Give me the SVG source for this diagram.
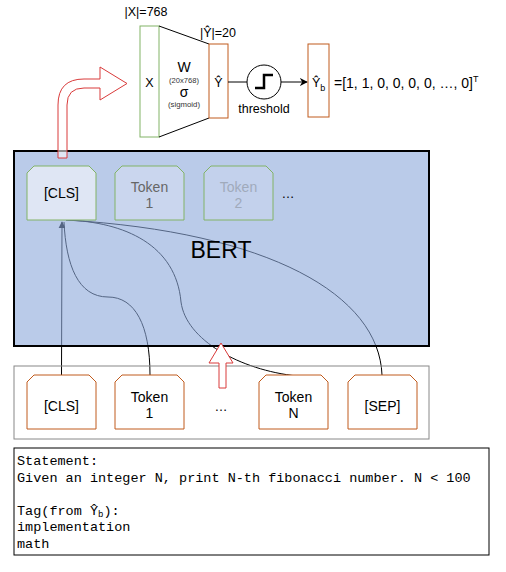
<svg xmlns="http://www.w3.org/2000/svg" width="506" height="572" viewBox="0 0 506 572">
<style>
text{font-family:"Liberation Sans",Arial,sans-serif;fill:#000}
.t12{font-size:12.5px}
.tok{font-size:14px;text-anchor:middle}
.mono{font-family:"Liberation Mono","Courier New",monospace;font-size:13.5px}
.inp{fill:#fff;stroke:#c05a1c;stroke-width:1}
.bt{stroke:#82b366;stroke-width:1}
.conn{fill:none;stroke:#000;stroke-width:1}
.red{fill:#fff;stroke:#d93a3a;stroke-width:1}
</style>
<defs>
<marker id="ah" viewBox="0 0 10 10" refX="9" refY="5" markerWidth="7" markerHeight="7" orient="auto" markerUnits="userSpaceOnUse">
<path d="M0,0 L10,5 L0,10 Z" fill="#000"/>
</marker>
<marker id="ah2" viewBox="0 0 10 10" refX="9" refY="5" markerWidth="8" markerHeight="8" orient="auto" markerUnits="userSpaceOnUse">
<path d="M0,0 L10,5 L0,10 L3,5 Z" fill="#000"/>
</marker>
</defs>
<rect width="506" height="572" fill="#fff"/>

<!-- top classifier -->
<g id="x-vector">
<rect x="140" y="26" width="19" height="111" fill="#fff" stroke="#82b366"/>
<text class="t12" x="149.5" y="87" text-anchor="middle">X</text>
<text class="t12" x="146" y="16" text-anchor="middle">|X|=768</text>
</g>
<g id="weights">
<line x1="159" y1="26" x2="209" y2="44" stroke="#000"/>
<line x1="159" y1="137" x2="209" y2="118" stroke="#000"/>
<text x="184" y="72" text-anchor="middle" style="font-size:14px">W</text>
<text x="184" y="83" text-anchor="middle" style="font-size:7.6px;fill:#333">(20x768)</text>
<text x="184" y="97" text-anchor="middle" style="font-size:14px">σ</text>
<text x="184" y="107" text-anchor="middle" style="font-size:7.8px;fill:#333">(sigmoid)</text>
</g>
<g id="y-hat">
<rect x="209" y="44" width="19" height="74" fill="#fff" stroke="#c05a1c"/>
<text class="t12" x="218.5" y="87" text-anchor="middle">Ŷ</text>
<text class="t12" x="218" y="37" text-anchor="middle">|Ŷ|=20</text>
</g>
<g id="threshold">
<circle cx="264" cy="82" r="17" fill="#fff" stroke="#000"/>
<path d="M255,88 L264,88 L264,75 L273,75" fill="none" stroke="#000" stroke-width="2.5"/>
<text class="t12" x="264" y="113" text-anchor="middle">threshold</text>
</g>
<g id="y-hat-b">
<rect x="308" y="44" width="21" height="73" fill="#fff" stroke="#c05a1c"/>
<text class="t12" x="312" y="87">Ŷ<tspan style="font-size:9px" dy="4">b</tspan></text>
<text x="334" y="88" style="font-size:14px">=[1, 1, 0, 0, 0, 0, …, 0]<tspan style="font-size:9px" dy="-6">T</tspan></text>
</g>
<g id="top-connectors">
<line x1="228" y1="82" x2="247" y2="82" stroke="#000"/>
<line x1="281" y1="82" x2="307" y2="82" stroke="#000" marker-end="url(#ah2)"/>
</g>

<!-- connectors into BERT -->
<g id="connectors">
<path class="conn" d="M61.5,375 L62,222" marker-end="url(#ah)"/>
<path class="conn" d="M150,375 C150,325 135,297 108,297 C78,297 66,265 64,222"/>
<path class="conn" d="M297,376 C240,370 186,340 181,302 C176,245 125,222 66,220"/>
<path class="conn" d="M382,375 C379,295 270,232 66,220"/>
</g>

<!-- BERT -->
<g id="bert">
<rect x="14" y="151" width="415" height="195" fill="#8ca8da" fill-opacity="0.6" stroke="#000" stroke-width="2"/>
<text x="221" y="258" text-anchor="middle" style="font-size:23px">BERT</text>
</g>
<g id="bert-cls">
<path class="bt" d="M34,166 L89,166 L96,173 L96,220 L27,220 L27,173 Z" fill="#dfe6f4"/>
<text class="tok" x="61.5" y="198">[CLS]</text>
</g>
<g id="bert-token1">
<path class="bt" d="M122,166 L177,166 L184,173 L184,220 L115,220 L115,173 Z" fill="#cad6ee"/>
<text class="tok" x="149.5" y="192" style="fill:#666">Token</text>
<text class="tok" x="149.5" y="208" style="fill:#666">1</text>
</g>
<g id="bert-token2">
<path class="bt" d="M211,166 L266,166 L273,173 L273,220 L204,220 L204,173 Z" fill="#c3d1ec"/>
<text class="tok" x="238.5" y="192" style="fill:#a0aabb">Token</text>
<text class="tok" x="238.5" y="208" style="fill:#a0aabb">2</text>
</g>
<text x="288" y="198" text-anchor="middle" style="font-size:13px">…</text>

<!-- top curved arrow -->
<g id="output-arrow">
<path class="red" fill-opacity="0.55" d="M58,158 L58,105 Q58,79 84,79 L100,79 L100,67 L127,83.5 L100,100 L100,88 L84,88 Q67,88 67,105 L67,158 Z"/>
</g>

<!-- input -->
<g id="input-group">
<rect x="14" y="366" width="415" height="73" fill="none" stroke="#888" stroke-width="1"/>
</g>
<g id="in-cls">
<path class="inp" d="M34,375 L89,375 L96,382 L96,429 L27,429 L27,382 Z"/>
<text class="tok" x="61.5" y="411">[CLS]</text>
</g>
<g id="in-token1">
<path class="inp" d="M122,375 L177,375 L184,382 L184,429 L115,429 L115,382 Z"/>
<text class="tok" x="149.5" y="402">Token</text>
<text class="tok" x="149.5" y="418">1</text>
</g>
<text x="221" y="411" text-anchor="middle" style="font-size:13px">…</text>
<g id="in-tokenN">
<path class="inp" d="M266,375 L321,375 L328,382 L328,429 L259,429 L259,382 Z"/>
<text class="tok" x="293.5" y="402">Token</text>
<text class="tok" x="293.5" y="418">N</text>
</g>
<g id="in-sep">
<path class="inp" d="M355,375 L410,375 L417,382 L417,429 L348,429 L348,382 Z"/>
<text class="tok" x="382.5" y="411">[SEP]</text>
</g>
<g id="input-arrow">
<path class="red" d="M221,343 L233,363 L226,363 L226,388 L219,388 L219,363 L209,363 Z"/>
</g>

<!-- statement box -->
<g id="statement">
<rect x="14" y="448" width="475" height="107" fill="#fff" stroke="#000" stroke-width="1"/>
<text class="mono" x="17" y="465">Statement:</text>
<text class="mono" x="17" y="482">Given an integer N, print N-th fibonacci number. N &lt; 100</text>
<text class="mono" x="17" y="515">Tag(from Ŷ<tspan style="font-size:9px" dy="2">b</tspan><tspan dy="-2">):</tspan></text>
<text class="mono" x="17" y="531">implementation</text>
<text class="mono" x="17" y="548">math</text>
</g>
</svg>
